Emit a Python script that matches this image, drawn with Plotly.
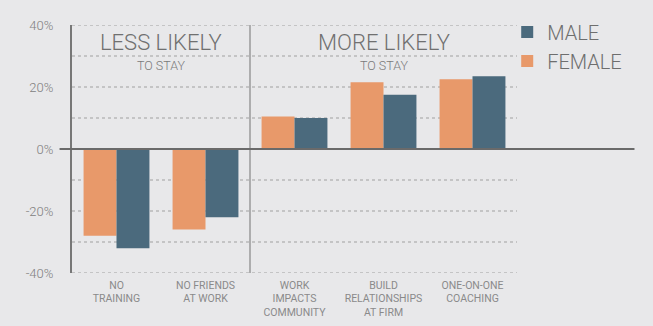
import plotly.graph_objects as go

categories = ["NO<br>TRAINING", "NO FRIENDS<br>AT WORK", "WORK<br>IMPACTS<br>COMMUNITY",
              "BUILD<br>RELATIONSHIPS<br>AT FIRM", "ONE-ON-ONE<br>COACHING"]
female = [-28, -26, 10.5, 21.5, 22.5]
male = [-32, -22, 10, 17.5, 23.5]
y_ticks = [-40, -20, 0, 20, 40]
y_ticklabels = ["-40%", "-20%", "0%", "20%", "40%"]
grid_vals = [-40, -30, -20, -10, 10, 20, 30, 40]

BG = "#e8e8ea"
ORANGE = "#e8996a"
BLUE = "#4b6a7d"
FONT = "Roboto"

fig = go.Figure()
fig.add_trace(go.Bar(x=categories, y=female, name="FEMALE", marker_color=ORANGE, marker_line_width=0))
fig.add_trace(go.Bar(x=categories, y=male, name="MALE", marker_color=BLUE, marker_line_width=0))

fig.update_layout(
    width=653, height=326,
    margin=dict(l=72, r=136, t=25, b=53, autoexpand=False),
    paper_bgcolor=BG, plot_bgcolor=BG,
    barmode="group", bargap=0.26, bargroupgap=0,
    font=dict(family=FONT, color="#7a7a7a"),
    legend=dict(traceorder="reversed", x=0.978, xanchor="left", y=1.05, yanchor="top",
                font=dict(size=20, color="#6e6e6e", family=FONT, weight=300), bgcolor="rgba(0,0,0,0)",
                itemsizing="constant", tracegroupgap=0),
    showlegend=True,
)
fig.update_xaxes(range=[-0.5, 4.5], showgrid=False, zeroline=False, showline=False,
                 ticks="", ticklabelstandoff=4, automargin=False,
                 tickfont=dict(size=10.5, color="#8a8a8a", family=FONT))
fig.update_yaxes(range=[-40, 40], tickvals=y_ticks, ticktext=y_ticklabels,
                 showgrid=False, zeroline=False, automargin=False,
                 showline=True, linecolor="#777777", linewidth=2,
                 ticks="", ticklabelstandoff=14,
                 tickfont=dict(size=13, color="#808080", family=FONT, weight=300))

# dotted gridlines
for g in grid_vals:
    fig.add_shape(type="line", xref="paper", yref="y", x0=0, x1=1, y0=g, y1=g,
                  line=dict(color="#a0a0a0", width=1, dash="dot"), layer="below")
# separator
fig.add_shape(type="line", xref="x", yref="paper", x0=1.5, x1=1.5, y0=0, y1=1,
              line=dict(color="#9a9a9a", width=1.5), layer="below")
# zero line
fig.add_shape(type="line", xref="paper", yref="y", x0=-0.028, x1=1.264, y0=0, y1=0,
              line=dict(color="#6a6a6a", width=2), layer="above")

fig.add_annotation(x=0.5, y=34.5, xref="x", yref="y", text="LESS LIKELY", showarrow=False,
                   font=dict(size=22, color="#707070", family=FONT, weight=300))
fig.add_annotation(x=0.5, y=26.8, xref="x", yref="y", text="TO STAY", showarrow=False,
                   font=dict(size=12.5, color="#7a7a7a", family=FONT, weight=300))
fig.add_annotation(x=3.0, y=34.5, xref="x", yref="y", text="MORE LIKELY", showarrow=False,
                   font=dict(size=22, color="#707070", family=FONT, weight=300))
fig.add_annotation(x=3.0, y=26.8, xref="x", yref="y", text="TO STAY", showarrow=False,
                   font=dict(size=12.5, color="#7a7a7a", family=FONT, weight=300))

fig.write_html("out.html")
